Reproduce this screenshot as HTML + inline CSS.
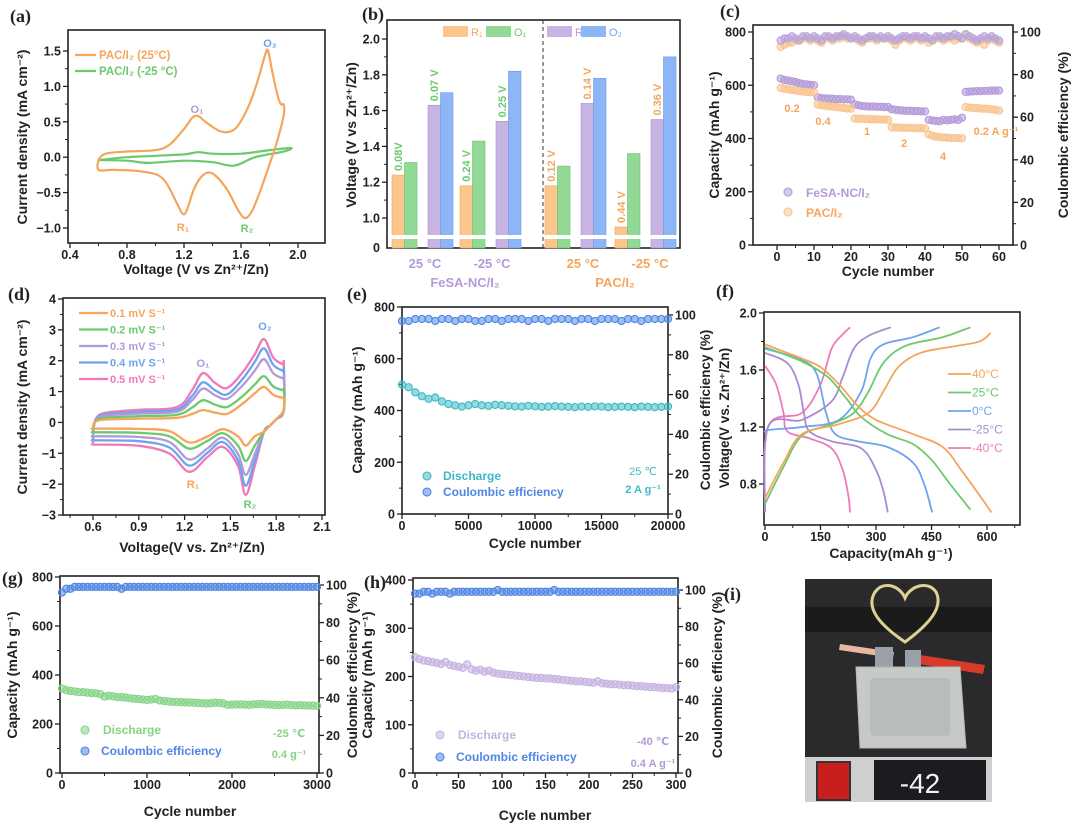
<!DOCTYPE html>
<html><head><meta charset="utf-8"><style>
html,body{margin:0;padding:0;background:#fff;}
svg{display:block;font-family:"Liberation Sans",Arial,sans-serif;}
</style></head><body>
<svg id="fig" xmlns="http://www.w3.org/2000/svg" width="1080" height="834" viewBox="0 0 1080 834"></svg>
<script>
// ---------- DATA ----------
// (a) CV curves [V, I]
const aPac25 = [[0.6,-0.03],[0.65,0.05],[0.8,0.08],[1.0,0.1],[1.1,0.18],[1.2,0.4],[1.26,0.56],[1.3,0.58],[1.35,0.5],[1.45,0.37],[1.52,0.36],[1.58,0.45],[1.66,0.75],[1.72,1.1],[1.77,1.45],[1.79,1.5],[1.82,1.2],[1.86,0.85],[1.88,0.75],[1.9,0.74],[1.9,0.6],[1.85,0.2],[1.8,-0.1],[1.74,-0.45],[1.68,-0.75],[1.63,-0.86],[1.58,-0.75],[1.5,-0.45],[1.4,-0.23],[1.33,-0.26],[1.27,-0.45],[1.22,-0.75],[1.19,-0.8],[1.15,-0.65],[1.05,-0.3],[0.9,-0.2],[0.7,-0.18],[0.6,-0.18],[0.6,-0.03]];
const aPacM25 = [[0.6,-0.04],[0.8,0.0],[1.0,0.02],[1.2,0.04],[1.3,0.07],[1.4,0.05],[1.6,0.05],[1.8,0.1],[1.95,0.13],[1.9,0.08],[1.7,0.0],[1.55,-0.12],[1.4,-0.07],[1.2,-0.05],[0.95,-0.08],[0.8,-0.05],[0.6,-0.04]];
// (b) bar values [R1,O1,R2,O2]
const bGroups = ["FeSA 25 °C","FeSA -25 °C","PAC 25 °C","PAC -25 °C"];
const bR1 = [1.24,1.18,1.18,0.95];
const bO1 = [1.31,1.43,1.29,1.36];
const bR2 = [1.63,1.54,1.64,1.55];
const bO2 = [1.70,1.82,1.78,1.90];
const bGapLabels = ["0.08V","0.07 V","0.24 V","0.25 V","0.12 V","0.14 V","0.44 V","0.36 V"];
// (c) rate capability
const cFe = [625,620,618,615,612,608,605,603,602,600,555,552,550,550,549,548,548,547,547,546,528,525,522,521,520,520,519,519,518,518,510,508,506,505,504,504,503,503,502,502,470,468,466,465,470,468,470,472,470,478,575,576,577,578,578,579,579,580,580,580];
const cPac = [590,587,585,582,580,578,576,575,574,573,528,525,523,521,520,518,516,515,513,512,475,474,474,473,473,472,472,471,471,470,442,441,441,440,440,440,439,439,439,438,415,410,407,405,404,403,402,402,401,401,518,516,515,514,513,512,511,510,508,505];
const cFeCE = [96,97,97,98,97,96,98,98,97,98,97,96,98,98,97,98,98,99,98,97,98,97,96,97,98,98,97,98,97,98,97,96,97,98,98,97,98,98,97,98,97,96,98,98,97,98,98,99,98,97,99,98,97,96,97,98,97,98,97,96];
const cPacCE = [93,94,95,95,96,96,97,97,96,97,96,95,97,97,96,97,97,98,97,97,97,96,95,97,97,97,96,97,97,97,96,94,96,97,97,96,97,97,96,97,95,96,97,97,96,97,97,96,97,97,99,97,96,95,96,94,96,97,96,95];
// (d) CV at rates
const dRates = ["0.1 mV S⁻¹","0.2 mV S⁻¹","0.3 mV S⁻¹","0.4 mV S⁻¹","0.5 mV S⁻¹"];
const dTop = [0.15,0.25,0.35,0.42,0.5];
const dBot = [-0.2,-0.32,-0.45,-0.58,-0.72];
const dO1 = [0.4,0.72,1.1,1.3,1.6];
const dO2 = [1.15,1.5,2.05,2.4,2.7];
const dR1 = [-0.65,-0.85,-1.2,-1.4,-1.6];
const dR2 = [-0.75,-1.25,-1.7,-2.05,-2.35];
// (e) long cycling 2 A/g
const eStep = 500;
const eCap = [500,490,470,455,445,450,435,425,420,415,420,425,420,418,422,420,418,416,415,418,416,414,415,417,415,414,413,415,414,416,415,413,414,415,414,413,415,414,413,414,415];
const eCE = [97,97,98,98,98,97,98,98,97,98,98,97,97,98,98,97,98,98,98,97,98,98,97,98,98,98,97,98,98,97,98,98,98,97,98,98,97,98,98,98,98];
// (f) GCD [capacity, voltage]
const fLabels = ["40°C","25°C","0°C","-25°C","-40°C"];
const fDis = [
 [[0,1.78],[50,1.73],[100,1.68],[150,1.62],[200,1.5],[250,1.35],[300,1.25],[400,1.15],[480,1.06],[530,0.9],[580,0.72],[612,0.6]],
 [[0,1.76],[100,1.66],[170,1.55],[220,1.4],[260,1.27],[330,1.15],[400,1.08],[450,0.97],[500,0.8],[555,0.62]],
 [[0,1.75],[100,1.67],[140,1.57],[165,1.3],[190,1.15],[250,1.1],[330,1.06],[400,0.95],[430,0.8],[452,0.6]],
 [[0,1.72],[60,1.65],[90,1.5],[105,1.3],[120,1.17],[180,1.1],[260,1.05],[300,0.9],[320,0.75],[332,0.6]],
 [[0,1.63],[30,1.5],[50,1.3],[60,1.17],[120,1.12],[180,1.05],[210,0.9],[225,0.72],[230,0.6]]];
const fChg = [
 [[0,0.7],[50,0.95],[100,1.15],[200,1.22],[280,1.3],[320,1.45],[360,1.62],[420,1.72],[520,1.77],[580,1.8],[610,1.86]],
 [[0,0.66],[50,0.92],[100,1.14],[180,1.22],[240,1.3],[280,1.45],[320,1.65],[380,1.77],[480,1.83],[555,1.9]],
 [[0,1.16],[10,1.18],[100,1.2],[200,1.25],[260,1.45],[285,1.68],[320,1.78],[400,1.83],[472,1.9]],
 [[0,0.6],[8,1.2],[100,1.25],[180,1.38],[210,1.55],[240,1.75],[280,1.84],[340,1.9]],
 [[0,0.6],[8,1.2],[100,1.3],[150,1.5],[180,1.75],[210,1.85],[230,1.9]]];
// (g) -25 °C cycling
const gStep = 50;
const gCap = [345,338,335,333,330,330,328,326,325,322,312,315,313,310,310,308,305,303,302,300,298,300,302,296,294,292,290,290,289,288,288,287,286,285,284,285,287,286,284,278,279,280,280,279,278,280,281,282,280,279,278,277,278,279,277,276,277,276,275,275,274];
const gCE = [96,98,98,99,99,99,99,99,99,99,99,99,99,99,98,99,99,99,99,99,99,99,99,99,99,99,99,99,99,99,99,99,99,99,99,99,99,99,99,99,99,99,99,99,99,99,99,99,99,99,99,99,99,99,99,99,99,99,99,99,99];
// (h) -40 °C cycling
const hStep = 5;
const hCap = [240,236,233,232,230,228,226,230,224,222,220,218,225,215,212,214,210,212,208,206,205,204,203,202,201,200,199,198,197,197,196,196,195,194,193,192,191,190,190,189,188,187,190,186,185,184,184,183,182,182,181,180,180,179,178,178,177,176,176,175,178];
const hCE = [98,98,99,99,98,99,99,99,98,99,99,99,99,99,99,99,99,99,99,100,99,99,99,99,99,99,99,99,99,99,99,99,100,99,99,99,99,99,99,99,99,99,99,99,99,99,99,99,99,99,99,99,99,99,99,99,99,99,99,99,99];

// ---------- HELPERS ----------
const NS = "http://www.w3.org/2000/svg";
const svg = document.getElementById("fig");
function mk(tag, attrs, parent){const e=document.createElementNS(NS,tag);for(const k in attrs)e.setAttribute(k,attrs[k]);(parent||svg).appendChild(e);return e;}
function lin(d0,d1,r0,r1){return v=>r0+(v-d0)*(r1-r0)/(d1-d0);}
function txt(x,y,s,o,name){o=o||{};const t=mk("text",{x:x,y:y,"font-size":o.size||13,"font-weight":o.w||"bold",fill:o.fill||"#222","text-anchor":o.anchor||"middle","font-family":o.family||'"Liberation Sans", "DejaVu Sans", sans-serif'});
 if(o.rot)t.setAttribute("transform","rotate("+o.rot+" "+x+" "+y+")");t.textContent=s;
 
 
 return t;}
function frame(x0,y0,x1,y1,name){const r=mk("rect",{x:x0,y:y0,width:x1-x0,height:y1-y0,fill:"none",stroke:"#222","stroke-width":1.6});
 
 }
function xTicks(sc,vals,yb,fmt,name,minor){vals.forEach(v=>{const x=sc(v);const l=mk("line",{x1:x,x2:x,y1:yb,y2:yb+5,stroke:"#222","stroke-width":1.3});
 
 
 txt(x,yb+16,fmt(v),{size:12.5},name+'-tick-label');});
 if(minor)minor.forEach(v=>{const x=sc(v);const l=mk("line",{x1:x,x2:x,y1:yb,y2:yb+3,stroke:"#222","stroke-width":1});
 
 });}
function yTicks(sc,vals,xb,fmt,name,right,minor){const d=right?1:-1;vals.forEach(v=>{const y=sc(v);const l=mk("line",{x1:xb,x2:xb+5*d,y1:y,y2:y,stroke:"#222","stroke-width":1.3});
 
 
 txt(xb+7*d,y+4.5,fmt(v),{size:12.5,anchor:right?"start":"end"},name+'-tick-label');});
 if(minor)minor.forEach(v=>{const y=sc(v);const l=mk("line",{x1:xb,x2:xb+3*d,y1:y,y2:y,stroke:"#222","stroke-width":1});
 
 });}
function smooth(p){let d="M"+p[0][0]+","+p[0][1];for(let i=0;i<p.length-1;i++){const p0=p[i-1]||p[i],p1=p[i],p2=p[i+1],p3=p[i+2]||p2;
 const c1=[p1[0]+(p2[0]-p0[0])/6,p1[1]+(p2[1]-p0[1])/6],c2=[p2[0]-(p3[0]-p1[0])/6,p2[1]-(p3[1]-p1[1])/6];
 d+=" C"+c1[0].toFixed(1)+","+c1[1].toFixed(1)+" "+c2[0].toFixed(1)+","+c2[1].toFixed(1)+" "+p2[0].toFixed(1)+","+p2[1].toFixed(1);}return d;}
function curve(data,sx,sy,color,name,w){const p=mk("path",{d:smooth(data.map(q=>[sx(q[0]),sy(q[1])])),fill:"none",stroke:color,"stroke-width":w||2.2,"stroke-linejoin":"round"});
 
 }
function dot(x,y,color,name,r){const c=mk("circle",{cx:x,cy:y,r:r||3.6,fill:color,"fill-opacity":0.55,stroke:color,"stroke-width":1.1});
 
 }
function range(a,b,s){const r=[];for(let v=a;v<=b+1e-9;v+=s)r.push(+v.toFixed(4));return r;}
const OR="#f5a55c",GR="#6cc96c",PU="#b39ad8",BL="#6ea4ee",PK="#f07ab8",TE="#3fb8c6",BL2="#4f86e3";

// ---------- PANEL A ----------
(function(){const sx=lin(0.4,2.0,70,298),sy=lin(1.5,-1.0,51,228);
 frame(68,30,325,243,"panel-a-frame");
 xTicks(sx,range(0.4,2.0,0.4),243,v=>v.toFixed(1),"a-x-axis",range(0.6,1.8,0.4));
 yTicks(sy,range(-1,1.5,0.5),68,v=>(v<0?"−":"")+Math.abs(v).toFixed(1),"a-y-axis",false,range(-0.75,1.25,0.5));
 curve(aPacM25,sx,sy,GR,"a-pac-minus25-curve");
 curve(aPac25,sx,sy,OR,"a-pac-25-curve");
 txt(10,22,"(a)",{size:18,family:'"Liberation Serif", serif',anchor:"start"},"panel-a-label");
 txt(196,274,"Voltage (V vs Zn²⁺/Zn)",{size:14},"a-x-axis-title");
 txt(27,137,"Current density (mA cm⁻²)",{size:14,rot:-90},"a-y-axis-title");
 const l1=mk("line",{x1:75,x2:96,y1:55,y2:55,stroke:OR,"stroke-width":2.2});
 
 
 const l2=mk("line",{x1:75,x2:96,y1:71,y2:71,stroke:GR,"stroke-width":2.2});
 
 
 txt(99,59,"PAC/I₂ (25°C)",{size:11.5,fill:OR,anchor:"start"},"a-legend-text-25");
 txt(99,75,"PAC/I₂ (-25 °C)",{size:11.5,fill:GR,anchor:"start"},"a-legend-text-minus25");
 txt(197,113,"O₁",{size:11,fill:PU},"a-peak-o1");txt(270,47,"O₂",{size:11,fill:BL},"a-peak-o2");
 txt(183,231,"R₁",{size:11,fill:OR},"a-peak-r1");txt(247,232,"R₂",{size:11,fill:GR},"a-peak-r2");})();

// ---------- PANEL B ----------
(function(){const sy=lin(1.0,2.0,218,39);
 frame(387,20,680,248,"panel-b-frame");
 yTicks(sy,range(1.0,2.0,0.2),387,v=>v.toFixed(1),"b-y-axis",false,range(1.1,1.9,0.2));
 txt(380,252,"0",{anchor:"end",size:12.5},"b-y-zero-label");
 const starts=[392,460,545,615];const bw=12.5;
 const series=[[bR1,"#fbc58c","#f0a860","r1"],[bO1,"#93d996","#6cc070","o1"],[bR2,"#c8b4e3","#a690cc","r2"],[bO2,"#8cb6f5","#6a98e6","o2"]];
 starts.forEach((x0,gi)=>{series.forEach((s,si)=>{const off=si<2?si*bw:si*bw+11;const y=sy(s[0][gi]);
  const r=mk("rect",{x:x0+off,y:y,width:bw,height:248-y,fill:s[1],stroke:s[2],"stroke-width":0.6});
  
  });});
 const br=mk("rect",{x:388,y:235,width:291,height:4,fill:"#fff"});
 
 
 const dl=mk("line",{x1:543,x2:543,y1:20,y2:248,stroke:"#333","stroke-width":1,"stroke-dasharray":"4,3"});
 
 
 starts.forEach((x0,gi)=>{const col=gi<2?GR:OR;
  const xr1=x0+bw/2,xr2=x0+2*bw+11+bw/2;
  txt(xr1+4,sy(bR1[gi])-4,bGapLabels[gi*2],{size:11,fill:col,anchor:"start",rot:-90},"b-gap-label");
  txt(xr2+4,sy(bR2[gi])-4,bGapLabels[gi*2+1],{size:11,fill:col,anchor:"start",rot:-90},"b-gap-label");});
 [[443,"#fbc58c","R₁",OR],[486,"#93d996","O₁",GR],[547,"#c8b4e3","R₂",PU],[581,"#8cb6f5","O₂",BL]].forEach(l=>{
  const r=mk("rect",{x:l[0],y:26,width:25,height:11,fill:l[1]});
  
  
  txt(l[0]+28,36,l[2],{size:11,w:"normal",fill:l[3],anchor:"start"},"b-legend-text");});
 txt(425,268,"25 °C",{size:13,fill:PU},"b-group-label");txt(492,268,"-25 °C",{size:13,fill:PU},"b-group-label");
 txt(465,287,"FeSA-NC/I₂",{size:13,fill:PU},"b-category-fesa");
 txt(583,268,"25 °C",{size:13,fill:OR},"b-group-label");txt(650,268,"-25 °C",{size:13,fill:OR},"b-group-label");
 txt(615,287,"PAC/I₂",{size:13,fill:OR},"b-category-pac");
 txt(362,20,"(b)",{size:18,family:'"Liberation Serif", serif',anchor:"start"},"panel-b-label");
 txt(356,135,"Voltage (V vs Zn²⁺/Zn)",{size:14,rot:-90},"b-y-axis-title");})();

// ---------- PANEL C ----------
(function(){const sx=lin(0,60,777,999),sy=lin(0,800,245,32),sr=lin(0,100,245,32);
 frame(753,25,1013,245,"panel-c-frame");
 xTicks(sx,range(0,60,10),245,v=>v,"c-x-axis",range(5,55,10));
 yTicks(sy,range(0,800,200),753,v=>v,"c-y-axis",false,range(100,700,200));
 yTicks(sr,range(0,100,20),1013,v=>v,"c-y2-axis",true,range(10,90,20));
 cPacCE.forEach((v,i)=>dot(sx(i+1),sr(v),"#f8c490","c-pac-ce-point"));
 cFeCE.forEach((v,i)=>dot(sx(i+1),sr(v),"#b8a4dc","c-fesa-ce-point"));
 cFe.forEach((v,i)=>dot(sx(i+1),sy(v),"#b39ad8","c-fesa-capacity-point"));
 cPac.forEach((v,i)=>dot(sx(i+1),sy(v),"#f8c490","c-pac-capacity-point"));
 [[792,112,"0.2"],[823,125,"0.4"],[867,135,"1"],[904,147,"2"],[943,160,"4"],[996,135,"0.2 A g⁻¹"]].forEach(t=>txt(t[0],t[1],t[2],{size:11,fill:OR},"c-rate-label"));
 dot(788,192,"#b39ad8","c-legend-marker-fesa",4);dot(788,212,"#f8c490","c-legend-marker-pac",4);
 txt(806,197,"FeSA-NC/I₂",{size:12,fill:PU,anchor:"start"},"c-legend-text-fesa");
 txt(806,217,"PAC/I₂",{size:12,fill:OR,anchor:"start"},"c-legend-text-pac");
 txt(720,17,"(c)",{size:18,family:'"Liberation Serif", serif',anchor:"start"},"panel-c-label");
 txt(888,276,"Cycle number",{size:14},"c-x-axis-title");
 txt(719,135,"Capacity (mAh g⁻¹)",{size:14,rot:-90},"c-y-axis-title");
 txt(1068,135,"Coulombic efficiency (%)",{size:14,rot:-90},"c-y2-axis-title");})();

// ---------- PANEL D ----------
(function(){const sx=lin(0.6,2.1,93,322),sy=lin(4,-3,299,515);
 frame(63,298,325,515,"panel-d-frame");
 xTicks(sx,range(0.6,2.1,0.3),515,v=>v.toFixed(1),"d-x-axis",range(0.45,1.95,0.3));
 yTicks(sy,range(-3,4,1),63,v=>(v<0?"−":"")+Math.abs(v),"d-y-axis",false,range(-2.5,3.5,1));
 const cols=[OR,GR,PU,BL,PK];
 for(let k=4;k>=0;k--){const t=dTop[k],b=dBot[k],o1=dO1[k],o2=dO2[k],r1=dR1[k],r2=dR2[k],v=o1*0.7;
  const pts=[[0.6,b],[0.605,b*0.2],[0.63,t*0.4],[0.7,t*0.65],[0.9,t*0.82],[1.15,t],[1.25,(t+o1)/2],[1.32,o1],[1.4,o1*0.8],[1.48,v],[1.58,(v+o2)/2*0.85],[1.66,o2*0.82],[1.72,o2],[1.78,o2*0.78],[1.84,o2*0.7],[1.85,o2*0.7],[1.85,0.4],[1.8,0.1],[1.76,-0.1],[1.72,-0.3],[1.66,r2*0.6],[1.6,r2],[1.55,r2*0.6],[1.45,b*1.1],[1.35,r1*0.7],[1.23,r1],[1.1,b*1.4],[0.9,b*1.05],[0.62,b],[0.6,b]];
  curve(pts,sx,sy,cols[k],"d-cv-curve-"+(k+1),2.3);}
 dRates.forEach((r,i)=>{const y=313+i*16.5;const l=mk("line",{x1:79,x2:108,y1:y,y2:y,stroke:cols[i],"stroke-width":2.3});
  
  
  txt(110,y+4,r,{size:11,fill:cols[i],anchor:"start"},"d-legend-text");});
 txt(203,367,"O₁",{size:11,fill:PU},"d-peak-o1");txt(265,330,"O₂",{size:11,fill:BL},"d-peak-o2");
 txt(193,488,"R₁",{size:11,fill:OR},"d-peak-r1");txt(250,508,"R₂",{size:11,fill:GR},"d-peak-r2");
 txt(8,300,"(d)",{size:18,family:'"Liberation Serif", serif',anchor:"start"},"panel-d-label");
 txt(192,552,"Voltage(V vs. Zn²⁺/Zn)",{size:14},"d-x-axis-title");
 txt(27,407,"Current density (mA cm⁻²)",{size:14,rot:-90},"d-y-axis-title");})();

// ---------- PANEL E ----------
(function(){const sx=lin(0,20000,402,668),sy=lin(0,800,514,307),sr=lin(0,100,514,315);
 frame(402,307,668,514,"panel-e-frame");
 xTicks(sx,range(0,20000,5000),514,v=>v,"e-x-axis",range(2500,17500,5000));
 yTicks(sy,range(0,800,200),402,v=>v,"e-y-axis",false,range(100,700,200));
 yTicks(sr,range(0,100,20),668,v=>v,"e-y2-axis",true,range(10,90,20));
 eCE.forEach((v,i)=>dot(sx(i*eStep),sr(v),BL2,"e-ce-point"));
 eCap.forEach((v,i)=>dot(sx(i*eStep),sy(v),TE,"e-capacity-point"));
 dot(427,476,TE,"e-legend-marker-discharge",4);dot(427,492,BL2,"e-legend-marker-ce",4);
 txt(443,480,"Discharge",{size:12,fill:TE,anchor:"start"},"e-legend-text-discharge");
 txt(443,496,"Coulombic efficiency",{size:12,fill:BL2,anchor:"start"},"e-legend-text-ce");
 txt(643,475,"25 ℃",{size:11,fill:TE,w:"normal"},"e-temp-label");txt(643,493,"2 A g⁻¹",{size:11,fill:TE},"e-rate-label");
 txt(347,300,"(e)",{size:18,family:'"Liberation Serif", serif',anchor:"start"},"panel-e-label");
 txt(535,548,"Cycle number",{size:14},"e-x-axis-title");
 txt(362,410,"Capacity (mAh g⁻¹)",{size:14,rot:-90},"e-y-axis-title");
 txt(710,410,"Coulombic efficiency (%)",{size:13.5,rot:-90},"e-y2-axis-title");})();

// ---------- PANEL F ----------
(function(){const sx=lin(0,600,765,987),sy=lin(0.8,2.0,484,313);
 frame(764,312,1020,525,"panel-f-frame");
 xTicks(sx,range(0,600,150),525,v=>v,"f-x-axis",range(75,675,150).filter(v=>sx(v)<1020));
 yTicks(sy,range(0.8,2.0,0.4),764,v=>v.toFixed(1),"f-y-axis",false,range(1.0,1.8,0.4));
 const cols=[OR,GR,BL,"#a98ccf",PK];
 for(let k=4;k>=0;k--){curve(fChg[k],sx,sy,cols[k],"f-charge-curve-"+fLabels[k],1.8);curve(fDis[k],sx,sy,cols[k],"f-discharge-curve-"+fLabels[k],1.8);}
 fLabels.forEach((l,i)=>{const y=374+i*18.5;const ln=mk("line",{x1:948,x2:971,y1:y,y2:y,stroke:cols[i],"stroke-width":1.8});
  
  
  txt(972,y+4,l,{size:12,w:"normal",fill:cols[i],anchor:"start"},"f-legend-text");});
 txt(716,297,"(f)",{size:18,family:'"Liberation Serif", serif',anchor:"start"},"panel-f-label");
 txt(891,558,"Capacity(mAh g⁻¹)",{size:14},"f-x-axis-title");
 txt(729,418,"Voltage(V vs. Zn²⁺/Zn)",{size:13.5,rot:-90},"f-y-axis-title");})();

// ---------- PANEL G ----------
(function(){const sx=lin(0,3000,62,317),sy=lin(0,800,773,577),sr=lin(0,100,773,585);
 frame(60,576,319,773,"panel-g-frame");
 xTicks(sx,range(0,3000,1000),773,v=>v,"g-x-axis",range(500,2500,1000));
 yTicks(sy,range(0,800,200),60,v=>v,"g-y-axis",false,range(100,700,200));
 yTicks(sr,range(0,100,20),319,v=>v,"g-y2-axis",true,range(10,90,20));
 gCE.forEach((v,i)=>dot(sx(i*gStep),sr(v),BL2,"g-ce-point"));
 gCap.forEach((v,i)=>dot(sx(i*gStep),sy(v),"#86d486","g-capacity-point"));
 dot(85,730,"#86d486","g-legend-marker-discharge",4);dot(85,751,BL2,"g-legend-marker-ce",4);
 txt(103,734,"Discharge",{size:12,fill:"#86d486",anchor:"start"},"g-legend-text-discharge");
 txt(101,755,"Coulombic efficiency",{size:12,fill:BL2,anchor:"start"},"g-legend-text-ce");
 txt(289,737,"-25 ℃",{size:11,fill:"#86d486"},"g-temp-label");txt(289,758,"0.4 g⁻¹",{size:11,fill:"#86d486"},"g-rate-label");
 txt(2,584,"(g)",{size:18,family:'"Liberation Serif", serif',anchor:"start"},"panel-g-label");
 txt(190,816,"Cycle number",{size:14},"g-x-axis-title");
 txt(17,675,"Capacity (mAh g⁻¹)",{size:14,rot:-90},"g-y-axis-title");
 txt(357,675,"Coulombic efficiency (%)",{size:14,rot:-90},"g-y2-axis-title");})();

// ---------- PANEL H ----------
(function(){const sx=lin(0,300,415,676),sy=lin(0,400,773,580),sr=lin(0,100,773,590);
 frame(413,578,678,773,"panel-h-frame");
 xTicks(sx,range(0,300,50),773,v=>v,"h-x-axis",range(25,275,50));
 yTicks(sy,range(0,400,100),413,v=>v,"h-y-axis",false,range(50,350,100));
 yTicks(sr,range(0,100,20),678,v=>v,"h-y2-axis",true,range(10,90,20));
 hCE.forEach((v,i)=>dot(sx(i*hStep),sr(v),BL2,"h-ce-point"));
 hCap.forEach((v,i)=>dot(sx(i*hStep),sy(v),"#c5b2e2","h-capacity-point"));
 dot(440,735,"#c5b2e2","h-legend-marker-discharge",4);dot(440,757,BL2,"h-legend-marker-ce",4);
 txt(458,739,"Discharge",{size:12,fill:"#c5b2e2",anchor:"start"},"h-legend-text-discharge");
 txt(456,761,"Coulombic efficiency",{size:12,fill:BL2,anchor:"start"},"h-legend-text-ce");
 txt(653,745,"-40 ℃",{size:11,fill:PU},"h-temp-label");txt(653,767,"0.4 A g⁻¹",{size:11,fill:PU},"h-rate-label");
 txt(364,588,"(h)",{size:18,family:'"Liberation Serif", serif',anchor:"start"},"panel-h-label");
 txt(545,820,"Cycle number",{size:14},"h-x-axis-title");
 txt(372,675,"Capacity (mAh g⁻¹)",{size:14,rot:-90},"h-y-axis-title");
 txt(722,675,"Coulombic efficiency (%)",{size:14,rot:-90},"h-y2-axis-title");})();

// ---------- PANEL I (photo) ----------
(function(){
 const g=mk("g",{});
 
 
 const bg=mk("rect",{x:805,y:579,width:187,height:223,fill:"#2a2a2c"},g);
 
 
 const band=mk("rect",{x:805,y:607,width:187,height:25,fill:"#1b1b1c"},g);
 
 
 const heart=mk("path",{d:"M905,642 C880,625 865,608 875,592 C884,580 900,586 905,598 C910,586 928,580 936,592 C944,608 928,625 905,642 Z",fill:"none",stroke:"#f3e6a0","stroke-width":3,opacity:0.9},g);
 
 
 const clip1=mk("polygon",{points:"840,644 894,652 893,658 839,650",fill:"#e8b8a0"},g);
 
 
 const clip2=mk("polygon",{points:"920,655 985,665 983,674 918,664",fill:"#d83a2c"},g);
 
 
 const tab1=mk("rect",{x:875,y:647,width:18,height:22,fill:"#9aa0a8"},g);
 
 
 const tab2=mk("rect",{x:905,y:650,width:16,height:19,fill:"#9aa0a8"},g);
 
 
 const pouch=mk("polygon",{points:"856,667 960,667 966,748 860,748",fill:"#c6c9c6",stroke:"#b5b8b5"},g);
 
 
 const inner=mk("rect",{x:870,y:678,width:80,height:58,fill:"#b9bdb9",rx:4},g);
 
 
 const strip=mk("rect",{x:805,y:757,width:187,height:45,fill:"#cfcfcf"},g);
 
 
 const sw=mk("rect",{x:817,y:762,width:33,height:38,fill:"#c81e1e",stroke:"#333","stroke-width":2},g);
 
 
 const disp=mk("rect",{x:874,y:760,width:112,height:40,fill:"#1a1c20"},g);
 
 
 txt(920,793,"-42",{size:28,fill:"#f2f2f2",w:"normal"},"i-display-reading");
 txt(724,600,"(i)",{size:18,family:'"Liberation Serif", serif',anchor:"start"},"panel-i-label");})();
</script>
</body></html>
